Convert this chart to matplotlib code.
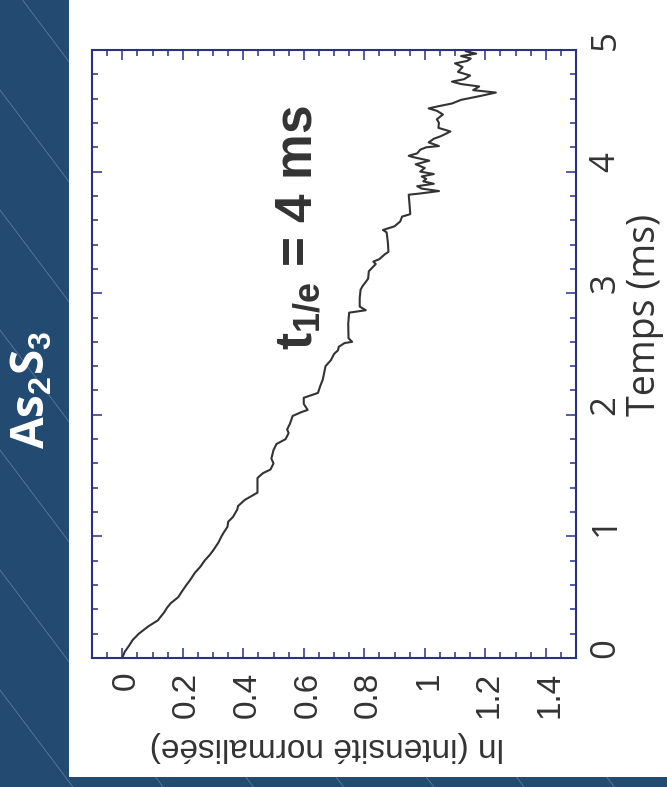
import matplotlib
matplotlib.use("Agg")
import matplotlib.pyplot as plt
from matplotlib.patches import Rectangle
from matplotlib.lines import Line2D
from matplotlib.transforms import ScaledTranslation

plt.rcParams['mathtext.fontset'] = 'custom'
plt.rcParams['mathtext.rm'] = 'Liberation Sans'
plt.rcParams['mathtext.bf'] = 'Liberation Sans:bold'

# temps (ms) et ln de l'intensité normalisée
temps = [0.00, 0.05, 0.10, 0.15, 0.20, 0.26, 0.31, 0.33, 0.38, 0.41,
         0.45, 0.50, 0.55, 0.60, 0.64, 0.70, 0.75, 0.80, 0.85, 0.89,
         0.95, 1.00, 1.03, 1.08, 1.12, 1.16, 1.22, 1.25, 1.30, 1.36,
         1.48, 1.52, 1.55, 1.60, 1.64, 1.71, 1.76, 1.80, 1.85, 1.88,
         1.93, 1.99, 2.02, 2.04, 2.09, 2.14, 2.18, 2.24, 2.29, 2.35,
         2.40, 2.45, 2.50, 2.53, 2.56, 2.59, 2.60, 2.63, 2.75, 2.84,
         2.86, 2.89, 2.96, 3.03, 3.06, 3.12, 3.18, 3.24, 3.26, 3.28,
         3.32, 3.34, 3.42, 3.50, 3.52, 3.55, 3.59, 3.63, 3.65, 3.72,
         3.81, 3.82, 3.84, 3.86, 3.88, 3.90, 3.92, 3.94, 3.96, 3.98,
         4.00, 4.03, 4.06, 4.09, 4.12, 4.13, 4.15, 4.18, 4.20, 4.21,
         4.24, 4.27, 4.29, 4.33, 4.36, 4.40, 4.43, 4.47, 4.50, 4.52,
         4.54, 4.56, 4.59, 4.62, 4.65, 4.67, 4.70, 4.72, 4.74, 4.76,
         4.79, 4.82, 4.86, 4.89, 4.91, 4.93, 4.95, 4.97, 4.99, 5.00]
ln_int = [0.000, 0.008, 0.022, 0.035, 0.055, 0.086, 0.118, 0.124, 0.140, 0.147,
          0.160, 0.185, 0.198, 0.212, 0.224, 0.240, 0.258, 0.272, 0.290, 0.302,
          0.318, 0.328, 0.335, 0.348, 0.350, 0.366, 0.380, 0.383, 0.405, 0.447,
          0.447, 0.465, 0.490, 0.500, 0.493, 0.500, 0.510, 0.540, 0.550, 0.545,
          0.555, 0.563, 0.590, 0.613, 0.600, 0.600, 0.647, 0.655, 0.663, 0.668,
          0.672, 0.690, 0.700, 0.713, 0.716, 0.735, 0.760, 0.748, 0.747, 0.750,
          0.805, 0.785, 0.785, 0.788, 0.795, 0.813, 0.815, 0.838, 0.830, 0.850,
          0.868, 0.880, 0.878, 0.874, 0.862, 0.900, 0.919, 0.925, 0.952, 0.950,
          0.947, 0.985, 1.047, 0.990, 0.975, 1.030, 0.995, 1.005, 0.990, 1.030,
          0.985, 1.000, 0.970, 1.015, 0.960, 0.947, 0.975, 0.985, 1.005, 1.047,
          1.013, 1.030, 1.052, 1.085, 1.045, 1.047, 1.040, 1.060, 1.040, 1.013,
          1.050, 1.090, 1.120, 1.180, 1.235, 1.160, 1.180, 1.120, 1.090, 1.130,
          1.150, 1.110, 1.125, 1.100, 1.140, 1.152, 1.120, 1.170, 1.135, 1.150]

bleu = '#234a70'
marine = '#2b2f86'
gris = '#333333'

fig = plt.figure(figsize=(6.67, 7.87), dpi=100, facecolor=bleu)

# lignes diagonales du fond
for k in range(-1, 9):
    y0 = -30 + 120 * k
    fig.add_artist(Line2D([0, 1], [1 - y0 / 787, 1 - (y0 + 1.33 * 667) / 787],
                          transform=fig.transFigure, color='#7d9dbd', lw=0.6,
                          alpha=0.6, zorder=-3))
fig.add_artist(Rectangle((69 / 667, 1 - 777 / 787), 1, 777 / 787,
                         transform=fig.transFigure, facecolor='white',
                         edgecolor='none', zorder=-2))

ax = fig.add_axes([92 / 667, 1 - 658 / 787, 484 / 667, 608 / 787])
ax.plot(ln_int, temps, color=gris, lw=1.5)

ax.set_xlim(-0.1, 1.5)
ax.set_ylim(0, 5)
ax.set_xticks([0, 0.2, 0.4, 0.6, 0.8, 1.0, 1.2, 1.4])
ax.set_xticklabels(['0', '0.2', '0.4', '0.6', '0.8', '1', '1.2', '1.4'])
ax.set_xticks([i * 0.05 - 0.1 for i in range(33)], minor=True)
ax.set_yticks([0, 1, 2, 3, 4, 5])
ax.set_yticks([i * 0.2 for i in range(26)], minor=True)

for s in ax.spines.values():
    s.set_color(marine)
    s.set_linewidth(1.5)
ax.tick_params(which='both', direction='in', top=True, bottom=True,
               left=True, right=True, color=marine, width=1.1,
               labelleft=False, labelright=True)
ax.tick_params(which='major', length=7.5)
ax.tick_params(which='minor', length=4.3)
ax.tick_params(axis='x', pad=10, labelsize=24, labelcolor=gris)
ax.tick_params(axis='y', pad=9, labelsize=25, labelcolor=gris)

decalage = ScaledTranslation(4 / 100, 0, fig.dpi_scale_trans)
for lab in ax.get_xticklabels():
    lab.set_rotation(90)
    lab.set_fontfamily('Liberation Sans')
    lab.set_transform(lab.get_transform() + decalage)
for lab in ax.get_yticklabels():
    lab.set_rotation(90)
    lab.set_va('bottom')
    lab.set_fontfamily('Open Sans')

ax.set_xlabel('ln (intensité normalisée)', fontsize=24, color=gris,
              family='Liberation Sans', rotation=180,
              rotation_mode='anchor', ha='center', va='baseline')
ax.xaxis.set_label_coords(0.4855, -0.1316)

ax.yaxis.set_label_position('right')
ax.set_ylabel('Temps (ms)', fontsize=27, color=gris, family='Open Sans',
              rotation=90, rotation_mode='anchor', ha='center', va='baseline')
ax.yaxis.set_label_coords(1.163, 0.565)

ax.text(0.626, 3.54, r'$\mathbf{t_{1/e}}$' + ' = 4 ms', fontsize=37,
        fontweight='bold', family='Liberation Sans', color=gris,
        rotation=90, rotation_mode='anchor', ha='center', va='baseline')

fig.text(45 / 667, 1 - 390 / 787, r'As$_\mathbf{2}$S$_\mathbf{3}$', fontsize=33,
         fontweight='bold', family='Open Sans', color='white',
         rotation=90, rotation_mode='anchor', ha='center', va='baseline')

fig.savefig('out.png', dpi=100, facecolor=bleu)
